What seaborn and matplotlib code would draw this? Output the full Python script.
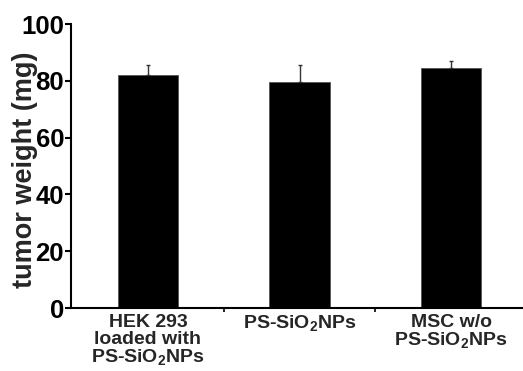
import matplotlib
matplotlib.use("Agg")
import matplotlib.pyplot as plt
import seaborn as sns
import pandas as pd

categories = ["HEK 293\nloaded with\nPS-SiO$_\\mathbf{2}$NPs", "PS-SiO$_\\mathbf{2}$NPs", "MSC w/o\nPS-SiO$_\\mathbf{2}$NPs"]
means = [81.9, 79.7, 84.5]
errors = [3.6, 6.0, 2.5]
yticks = [0, 20, 40, 60, 80, 100]

sns.set_theme(style="ticks")
plt.rcParams['font.family'] = ['Liberation Sans', 'DejaVu Sans']
plt.rcParams['font.weight'] = 'bold'
plt.rcParams['mathtext.fontset'] = 'custom'
plt.rcParams['mathtext.bf'] = 'Liberation Sans:bold'
plt.rcParams['mathtext.rm'] = 'Liberation Sans:bold'

df = pd.DataFrame({"cat": categories, "val": means})

fig = plt.figure(figsize=(5.23, 3.71), dpi=100)
ax = fig.add_axes([71/523, 63/371, 1 - 71/523, (308-24)/371])
sns.barplot(data=df, x="cat", y="val", color="black", width=0.4, errorbar=None,
            saturation=1, ax=ax, edgecolor="#555555", linewidth=0.6)
ax.errorbar(range(len(means)), means, yerr=[[0]*len(means), errors], fmt="none",
            ecolor="#333333", elinewidth=1.0, capsize=1.2, capthick=1.0, zorder=3)

ax.set_ylim(0, 100)
ax.set_xlim(-0.508, 2.475)
ax.set_yticks(yticks)
ax.set_yticklabels([str(t) for t in yticks], fontsize=18.5, fontweight='bold')
ax.set_xticks([])
ax.set_xticks([0.5, 1.5], minor=True)
ax.tick_params(axis='x', which='minor', length=3, width=1.2, direction='out', color='black')
for i, lab in enumerate(categories):
    ax.text(i, -2.0, lab, ha='center', va='top', fontsize=14, fontweight='bold',
            linespacing=1.0, transform=ax.transData)
ax.tick_params(axis='y', length=4, width=1.5, pad=1, color='black', labelcolor='black')
ax.set_xlabel("")
ax.set_ylabel("tumor weight (mg)", fontsize=19.5, fontweight='bold', va='center')
ax.yaxis.set_label_coords(-0.102, 0.486)
sns.despine(ax=ax, top=True, right=True)
for s in ['left', 'bottom']:
    ax.spines[s].set_linewidth(1.5)
    ax.spines[s].set_color('black')

fig.savefig("out.png", dpi=100)
